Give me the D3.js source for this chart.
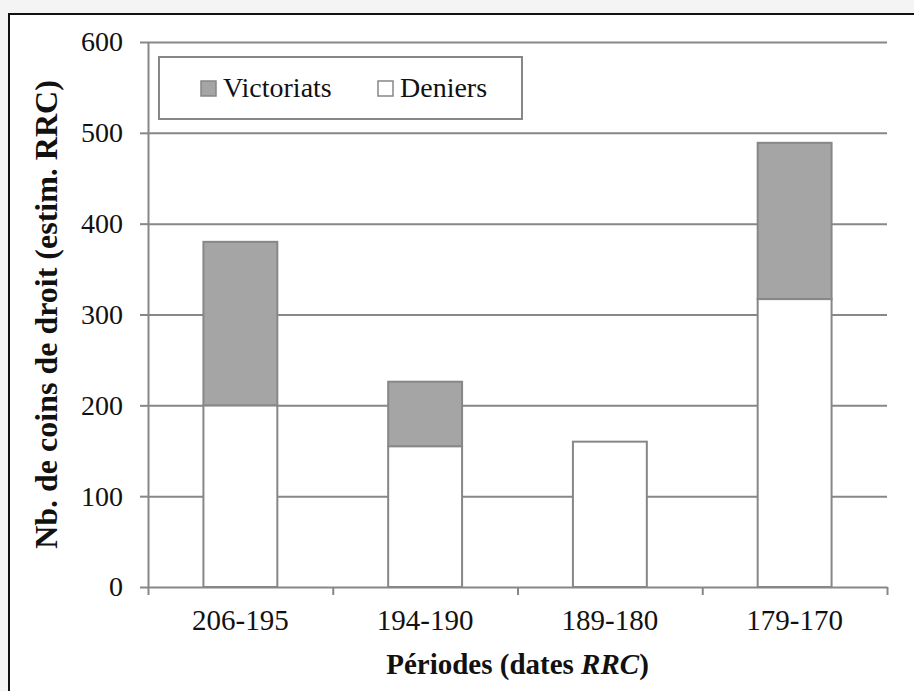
<!DOCTYPE html>
<html>
<head>
<meta charset="utf-8">
<script src="https://cdn.jsdelivr.net/npm/d3@7"></script>
<style>
  body { margin: 0; background: #f4f4f4; }
  text { font-family: "Liberation Serif", "Times New Roman", serif; fill: #111; }
</style>
</head>
<body>
<svg width="914" height="691"></svg>
<script>
// data
var periods = ["206-195", "194-190", "189-180", "179-170"];
var deniers = [200, 155, 160, 317];
var victoriats = [180, 71, 0, 172];
var yTicks = [0, 100, 200, 300, 400, 500, 600];
var seriesNames = ["Victoriats", "Deniers"];

var grey = "#878787";

var svg = d3.select("svg");

// outer frame
svg.append("rect")
    .attr("x", 9).attr("y", 14)
    .attr("width", 930).attr("height", 700)
    .attr("fill", "#fff")
    .attr("stroke", "#111")
    .attr("stroke-width", 2);

var plotLeft = 148, plotRight = 887, plotTop = 42, plotBottom = 587;

var x = d3.scaleBand()
    .domain(periods)
    .range([plotLeft, plotRight])
    .paddingInner(0.6)
    .paddingOuter(0.3);

var xEdges = d3.scaleLinear().domain([0, periods.length]).range([plotLeft, plotRight]);

var y = d3.scaleLinear().domain([0, 600]).range([plotBottom, plotTop]);

// gridlines
svg.append("g")
    .attr("transform", "translate(" + plotLeft + ",0)")
    .call(d3.axisLeft(y).tickValues(yTicks.slice(1)).tickSize(-(plotRight - plotLeft)).tickFormat(""))
    .call(function (g) { g.select(".domain").remove(); })
    .selectAll("line")
    .attr("stroke", grey)
    .attr("stroke-width", 2);

// stacked bars, deniers at the bottom
var rows = periods.map(function (p, i) {
    return { period: p, Deniers: deniers[i], Victoriats: victoriats[i] };
});
var stacked = d3.stack().keys(["Deniers", "Victoriats"])(rows);
var fills = { Deniers: "#ffffff", Victoriats: "#a5a5a5" };

svg.append("g").selectAll("g")
    .data(stacked)
    .enter().append("g")
    .attr("fill", function (d) { return fills[d.key]; })
    .selectAll("rect")
    .data(function (d) { return d.filter(function (s) { return s[1] > s[0]; }); })
    .enter().append("rect")
    .attr("x", function (d) { return x(d.data.period); })
    .attr("y", function (d) { return y(d[1]); })
    .attr("width", x.bandwidth())
    .attr("height", function (d) { return y(d[0]) - y(d[1]); })
    .attr("stroke", grey)
    .attr("stroke-width", 2);

// y axis
var yAxis = svg.append("g")
    .attr("transform", "translate(" + plotLeft + ",0)")
    .call(d3.axisLeft(y).tickValues(yTicks).tickSize(8).tickSizeOuter(0).tickPadding(17));
yAxis.select(".domain").attr("stroke", grey).attr("stroke-width", 2);
yAxis.selectAll("line").attr("stroke", grey).attr("stroke-width", 2);
yAxis.selectAll("text").style("font-size", "28px").attr("fill", "#111");

// x axis line with ticks at category edges
var xAxis = svg.append("g")
    .attr("transform", "translate(0," + plotBottom + ")")
    .call(d3.axisBottom(xEdges).ticks(periods.length).tickSize(8).tickSizeOuter(0).tickFormat(""));
xAxis.select(".domain").attr("stroke", grey).attr("stroke-width", 2);
xAxis.selectAll("line").attr("stroke", grey).attr("stroke-width", 2);

// category labels
var xLabels = svg.append("g")
    .attr("transform", "translate(0," + plotBottom + ")")
    .call(d3.axisBottom(x).tickSize(0).tickPadding(22));
xLabels.select(".domain").remove();
xLabels.selectAll("text").style("font-size", "29px").attr("fill", "#111");

// axis titles
var xTitle = svg.append("text")
    .attr("x", (plotLeft + plotRight) / 2)
    .attr("y", 674)
    .attr("text-anchor", "middle")
    .style("font-size", "29px")
    .style("font-weight", "bold");
xTitle.append("tspan").text("Périodes (dates ");
xTitle.append("tspan").style("font-style", "italic").text("RRC");
xTitle.append("tspan").text(")");

svg.append("text")
    .attr("transform", "translate(57," + (plotTop + plotBottom) / 2 + ") rotate(-90)")
    .attr("text-anchor", "middle")
    .style("font-size", "32px")
    .style("font-weight", "bold")
    .text("Nb. de coins de droit (estim. RRC)");

// legend
var legend = svg.append("g");
legend.append("rect")
    .attr("x", 159).attr("y", 57)
    .attr("width", 363).attr("height", 62)
    .attr("fill", "#fff")
    .attr("stroke", grey)
    .attr("stroke-width", 2);

var legendX = [201, 378];
seriesNames.forEach(function (name, i) {
    legend.append("rect")
        .attr("x", legendX[i]).attr("y", 81)
        .attr("width", 15).attr("height", 15)
        .attr("fill", fills[name])
        .attr("stroke", grey)
        .attr("stroke-width", 1.5);
    legend.append("text")
        .attr("x", legendX[i] + 22)
        .attr("y", 97)
        .style("font-size", "28px")
        .text(name);
});
</script>
</body>
</html>
